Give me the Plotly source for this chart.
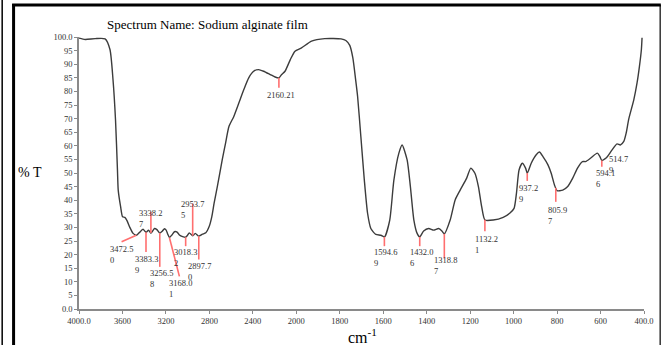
import numpy as np
import plotly.graph_objects as go

# ---------------- data ----------------
wavenumber = [4000, 3943, 3851, 3760, 3715, 3687, 3664, 3646, 3639, 3617, 3599, 3578, 3557, 3532,
              3502, 3472, 3447, 3411, 3383, 3360, 3338, 3305, 3283, 3256, 3234, 3213, 3198, 3183,
              3168, 3143, 3122, 3097, 3076, 3046, 3018, 3001, 2985, 2953, 2930, 2898, 2864, 2833,
              2803, 2778, 2757, 2727, 2682, 2651, 2620, 2575, 2529, 2484, 2438, 2393, 2347, 2301,
              2240, 2195, 2160, 2135, 2104, 2055, 2012, 1976, 1930, 1869, 1794, 1772, 1754, 1740,
              1727, 1718, 1703, 1687, 1672, 1657, 1634, 1611, 1594, 1570, 1551, 1528, 1513, 1490,
              1475, 1459, 1444, 1432, 1414, 1391, 1368, 1345, 1330, 1319, 1292, 1269, 1246, 1216,
              1197, 1178, 1162, 1147, 1132, 1094, 1048, 1018, 998, 987, 975, 960, 945, 937, 919,
              896, 881, 865, 842, 827, 812, 800, 774, 751, 728, 706, 683, 669, 645, 615, 604, 594,
              580, 569, 547, 524, 509, 493, 482, 470, 447, 432, 421, 412, 409]
transmittance = [99.6, 99.1, 99.4, 99.3, 95.4, 84.3, 69.6, 51.1, 43.7, 37.6, 33.9, 33.7, 32.4, 30.0,
                 27.8, 27.1, 28.0, 29.3, 28.2, 29.0, 27.9, 29.6, 29.2, 27.9, 28.6, 29.5, 29.0, 27.5,
                 26.3, 27.3, 28.4, 28.3, 27.2, 26.6, 26.4, 27.1, 28.0, 26.9, 27.8, 26.8, 27.5, 28.0,
                 30.2, 33.9, 38.8, 45.0, 54.8, 61.0, 67.1, 70.8, 75.7, 80.6, 85.0, 87.4, 88.0, 87.4,
                 86.2, 85.3, 85.0, 86.2, 87.4, 91.7, 94.8, 96.0, 98.5, 99.4, 99.3, 98.7, 96.9, 92.4,
                 84.3, 78.2, 63.4, 47.4, 35.2, 29.6, 27.4, 27.1, 26.5, 32.7, 47.4, 57.3, 60.3, 54.8,
                 45.0, 32.7, 27.8, 26.5, 28.7, 29.6, 29.0, 29.6, 28.7, 27.6, 32.7, 40.1, 43.7, 48.1,
                 51.8, 49.9, 45.0, 37.6, 32.7, 32.7, 33.7, 35.2, 37.0, 42.5, 51.1, 53.6, 51.8, 49.9, 53.6,
                 56.7, 57.7, 56.0, 53.0, 49.9, 45.6, 43.5, 43.7, 45.0, 48.1, 51.8, 54.2, 54.2, 55.5, 57.3, 56.2, 54.6,
                 55.2, 56.0, 58.5, 60.7, 60.3, 61.6, 64.7, 69.9, 76.9, 83.1, 89.2, 95.4, 99.7]

peak_wn = [3472.50, 3383.39, 3338.27, 3256.58, 3168.01, 3018.32, 2953.75, 2897.70, 2160.21,
           1594.69, 1432.06, 1318.87, 1132.21, 937.29, 805.97, 594.16, 514.79]
peak_labels = ["3472.5<br>0", "3383.3<br>9", "3338.2<br>7", "3256.5<br>8", "3168.0<br>1",
               "3018.3<br>2", "2953.7<br>5", "2897.7<br>0", "2160.21", "1594.6<br>9",
               "1432.0<br>6", "1318.8<br>7", "1132.2<br>1", "937.2<br>9", "805.9<br>7",
               "594.1<br>6", "514.7<br>9"]

x_tick_wn = [4000, 3600, 3200, 2800, 2400, 2000, 1800, 1600, 1400, 1200, 1000, 800, 600, 400]
x_tick_text = ["4000.0", "3600", "3200", "2800", "2400", "2000", "1800", "1600", "1400",
               "1200", "1000", "800", "600", "400.0"]
y_tick_vals = list(range(0, 101, 5))
y_tick_text = ["0.0"] + [str(v) for v in range(5, 100, 5)] + ["100.0"]

# ---------------- layout placement (not data) ----------------
# label block anchor (wavenumber, %T of top of text)
label_anchor_wn = [3733, 3505, 3462, 3368, 3189, 3140, 3076, 3012, 2286,
                   1654, 1485, 1376, 1186, 984, 851, 632, 569]
label_anchor_t = [24.6, 20.9, 38.0, 15.9, 12.2, 23.5, 41.0, 18.3, 81.2,
                  23.5, 23.5, 20.5, 28.4, 46.9, 39.0, 52.4, 57.8]
# end point of red marker line (wavenumber, %T); None = vertical / no line
line_end_wn = [3608, None, None, None, 3076, None, None, None, None,
               None, None, None, None, None, None, None, None]
line_end_t = [24.7, 21.0, 35.7, 15.5, 12.0, 23.1, 38.8, 18.2, 81.3,
              23.1, 23.1, 18.6, 28.6, 47.1, 39.4, 52.3, None]


def wn_to_pos(w):
    """FTIR axis with scale change at 2000 cm-1 (400 per tick above, 200 below)."""
    w = np.asarray(w, dtype=float)
    return np.where(w >= 2000, (4000 - w) / 400.0, 5 + (2000 - w) / 200.0)


xpos = wn_to_pos(wavenumber)
T = np.array(transmittance)

fig = go.Figure()
fig.add_trace(go.Scatter(x=xpos, y=T, mode="lines",
                         line=dict(color="#3c3c3c", width=1.4, shape="spline", smoothing=0.6),
                         hoverinfo="skip", showlegend=False))

LABEL_FONT = dict(family="Liberation Serif", size=8.5, color="#333333")
RED = "#ff6f6f"

order = np.argsort(xpos)
shapes = []
annotations = []
for i, w in enumerate(peak_wn):
    p = float(wn_to_pos(w))
    t_curve = float(np.interp(p, xpos[order], T[order]))
    if line_end_t[i] is not None:
        pe = p if line_end_wn[i] is None else float(wn_to_pos(line_end_wn[i]))
        shapes.append(dict(type="line", xref="x", yref="y", x0=p, y0=t_curve, x1=pe, y1=line_end_t[i],
                           line=dict(color=RED, width=1.6), layer="above"))
    annotations.append(dict(x=float(wn_to_pos(label_anchor_wn[i])), y=label_anchor_t[i],
                            xref="x", yref="y", text=peak_labels[i], showarrow=False,
                            xanchor="left", yanchor="top", align="left", font=LABEL_FONT))

# page geometry
W, H = 666, 345
L, R, TM, B = 79, 17, 37, 36
PW, PH = W - L - R, H - TM - B


def px(xp):
    return (xp - L) / PW


def py(yp):
    return (H - B - yp) / PH


# frame lines
shapes += [
    dict(type="line", xref="paper", yref="paper", x0=px(1.5), x1=px(1.5), y0=py(0), y1=py(345),
         line=dict(color="black", width=1.5)),
    dict(type="line", xref="paper", yref="paper", x0=px(13), x1=px(13), y0=py(4), y1=py(345),
         line=dict(color="black", width=3)),
    dict(type="line", xref="paper", yref="paper", x0=px(11.5), x1=px(666), y0=py(5), y1=py(5),
         line=dict(color="black", width=3)),
    dict(type="line", xref="paper", yref="paper", x0=px(665.3), x1=px(665.3), y0=py(5), y1=py(345),
         line=dict(color="black", width=1.2)),
]

annotations += [
    dict(x=px(105), y=py(25), xref="paper", yref="paper", text="Spectrum Name: Sodium alginate film",
         showarrow=False, xanchor="left", yanchor="middle",
         font=dict(family="Liberation Serif", size=13, color="black")),
    dict(x=px(15), y=py(172), xref="paper", yref="paper", text="% T", showarrow=False,
         xanchor="left", yanchor="middle", font=dict(family="Liberation Serif", size=14, color="black")),
    dict(x=px(348), y=py(336), xref="paper", yref="paper", text="cm<sup>-1</sup>", showarrow=False,
         xanchor="left", yanchor="middle", font=dict(family="Liberation Serif", size=16, color="black")),
]

AX_COLOR = "#8a8a8a"
TICK_FONT = dict(family="Liberation Serif", size=8.5, color="#333333")
fig.update_layout(
    width=W, height=H,
    margin=dict(l=L, r=R, t=TM, b=B, pad=0),
    paper_bgcolor="white", plot_bgcolor="white",
    showlegend=False,
    shapes=shapes, annotations=annotations,
    xaxis=dict(range=[0, 13], tickmode="array", tickvals=list(wn_to_pos(x_tick_wn)),
               ticktext=x_tick_text, showgrid=False, zeroline=False, showline=True,
               linecolor=AX_COLOR, linewidth=1.5, ticks="outside", ticklen=3, tickcolor=AX_COLOR,
               tickfont=TICK_FONT, fixedrange=True),
    yaxis=dict(range=[0, 100], tickmode="array", tickvals=y_tick_vals, ticktext=y_tick_text,
               showgrid=False, zeroline=False, showline=True, linecolor=AX_COLOR, linewidth=1.5,
               ticks="outside", ticklen=3, tickcolor=AX_COLOR, tickfont=TICK_FONT, fixedrange=True),
)

fig.write_html("out.html", config=dict(displayModeBar=False),
               post_script="document.body.style.margin='0';document.body.style.overflow='hidden';")
